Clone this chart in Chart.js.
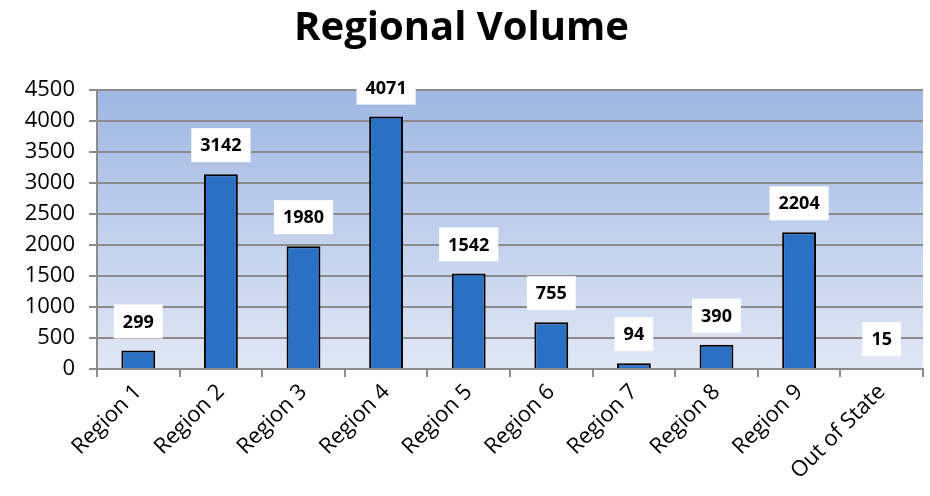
<!DOCTYPE html>
<html>
<head>
<meta charset="utf-8">
<script src="https://cdn.jsdelivr.net/npm/chart.js@4/dist/chart.umd.min.js"></script>
<style>
  html, body { margin: 0; padding: 0; background: #fff; }
  #wrap { width: 930px; height: 496px; }
</style>
</head>
<body>
<div id="wrap"><canvas id="canvas"></canvas></div>
<script>
const regions = ['Region 1', 'Region 2', 'Region 3', 'Region 4', 'Region 5',
  'Region 6', 'Region 7', 'Region 8', 'Region 9', 'Out of State'];
const volume = [299, 3142, 1980, 4071, 1542, 755, 94, 390, 2204, 15];
const yTicks = [0, 500, 1000, 1500, 2000, 2500, 3000, 3500, 4000, 4500];

// gradient fill behind the bars
const plotBg = {
  id: 'plotBg',
  beforeDraw(chart) {
    const { ctx, chartArea: a } = chart;
    const g = ctx.createLinearGradient(0, a.top, 0, a.bottom);
    g.addColorStop(0, '#9fb7e3');
    g.addColorStop(1, '#e1e7f5');
    ctx.save();
    ctx.fillStyle = g;
    ctx.fillRect(a.left, a.top, a.right - a.left, a.bottom - a.top);
    ctx.restore();
  }
};

// white boxed value labels above each bar
const valueBoxes = {
  id: 'valueBoxes',
  afterDatasetsDraw(chart) {
    const { ctx } = chart;
    const meta = chart.getDatasetMeta(0);
    ctx.save();
    ctx.font = 'bold 18px "Open Sans"';
    ctx.textAlign = 'center';
    ctx.textBaseline = 'middle';
    meta.data.forEach((bar, i) => {
      const txt = String(volume[i]);
      const w = ctx.measureText(txt).width + 18;
      const h = 34;
      const bottom = bar.y - 12;
      ctx.fillStyle = '#ffffff';
      ctx.fillRect(bar.x - w / 2, bottom - h, w, h);
      ctx.fillStyle = '#000';
      ctx.fillText(txt, bar.x, bottom - h / 2 + 1);
    });
    ctx.restore();
  }
};

new Chart(document.querySelector('#canvas'), {
  type: 'bar',
  data: {
    labels: regions,
    datasets: [{
      data: volume,
      backgroundColor: '#2a70c4',
      borderColor: '#000',
      borderWidth: 2,
      categoryPercentage: 1,
      barPercentage: 0.41
    }]
  },
  options: {
    responsive: true,
    maintainAspectRatio: false,
    animation: false,
    layout: { padding: { left: 0, right: 7, top: 5, bottom: 0 } },
    plugins: {
      legend: { display: false },
      tooltip: { enabled: false },
      title: {
        display: true,
        text: 'Regional Volume',
        color: '#000',
        font: { family: '"Open Sans"', size: 40, weight: 'bold' },
        padding: { top: 0, bottom: 37 }
      }
    },
    scales: {
      x: {
        grid: {
          drawOnChartArea: false,
          drawTicks: true,
          tickLength: 8,
          color: '#8c8c8c',
          lineWidth: 2
        },
        border: { color: '#8c8c8c', width: 2 },
        ticks: {
          color: '#000',
          font: { family: '"Open Sans"', size: 22 },
          maxRotation: 45,
          minRotation: 45,
          padding: 2
        },
        afterFit(scale) { scale.height = 127; }
      },
      y: {
        min: 0,
        max: 4500,
        afterBuildTicks(scale) { scale.ticks = yTicks.map(v => ({ value: v })); },
        grid: {
          color: '#8c8c8c',
          lineWidth: 2,
          tickLength: 8
        },
        border: { color: '#8c8c8c', width: 2 },
        ticks: {
          color: '#000',
          font: { family: '"Open Sans"', size: 22 },
          padding: 14,
          callback: v => String(v)
        },
        afterFit(scale) { scale.width = 97; }
      }
    }
  },
  plugins: [plotBg, valueBoxes]
});
</script>
</body>
</html>
